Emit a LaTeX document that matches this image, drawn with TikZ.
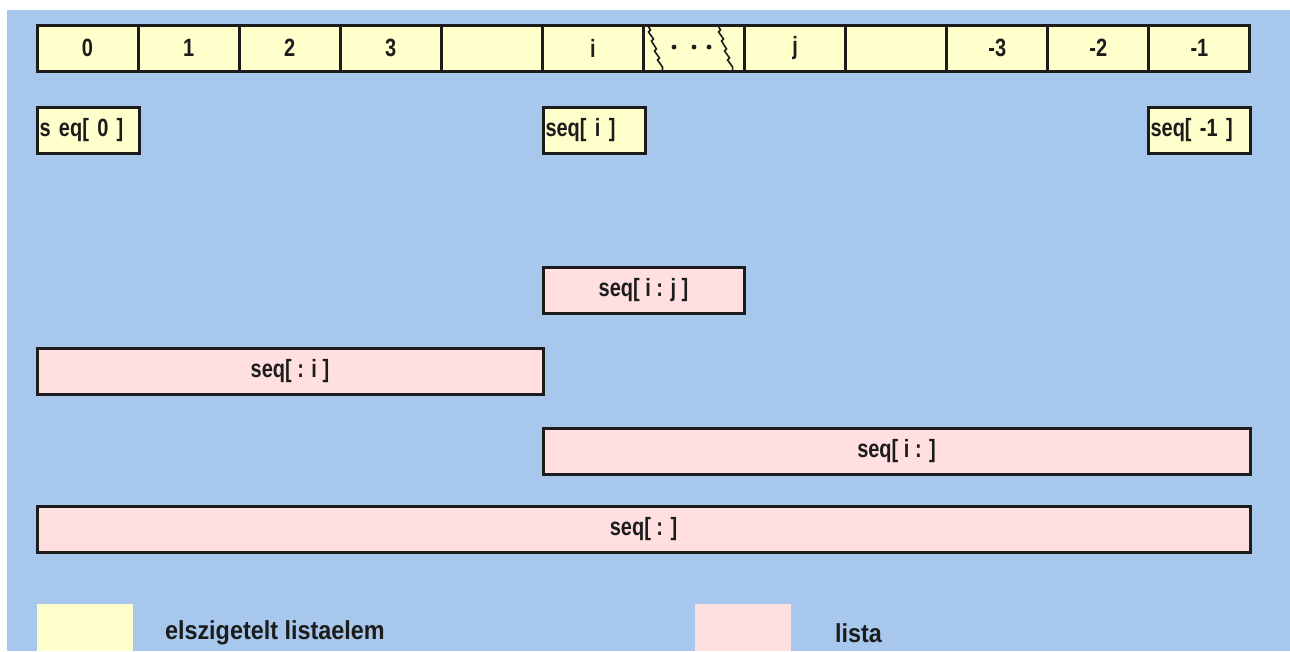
\documentclass[tikz,border=0pt]{standalone}
\usepackage{fontspec}
\setmainfont[FakeStretch=0.8]{Liberation Sans}
\newfontfamily\legfont[FakeStretch=0.9]{Liberation Sans}
\definecolor{bgblue}{HTML}{A7C8EC}
\definecolor{elemyellow}{HTML}{FFFFCC}
\definecolor{listpink}{HTML}{FFDFDF}
\definecolor{edge}{HTML}{1C1C1C}
\begin{document}
\begin{tikzpicture}[x=1pt,y=-1pt,
  every node/.style={font=\fontsize{25}{29}\selectfont\bfseries, text=edge, inner sep=0pt, outer sep=0pt},
  cell/.style={draw=edge, line width=3pt, fill=elemyellow, minimum width=101.08pt, minimum height=46pt, anchor=north west},
  elem/.style={draw=edge, line width=3pt, fill=elemyellow, minimum width=102pt, minimum height=46pt, anchor=north west, text width=99pt, align=left},
  slice/.style={draw=edge, line width=3pt, fill=listpink, minimum height=46pt, anchor=north west},
  swatch/.style={fill=#1, minimum width=96pt, minimum height=47pt, anchor=north west},
  legendtext/.style={anchor=west, font=\legfont\fontsize{26}{30}\selectfont\bfseries}
]
\useasboundingbox (0,0) rectangle (1290,651);
\fill[white] (0,0) rectangle (1290,651);
\fill[bgblue] (7,10) rectangle (1290,651);

% index row
\foreach \lab [count=\n] in {0,1,2,3,{},i,{},j,{},-3,-2,-1}{
  \node[cell] (c\n) at ({37+(\n-1)*101.08},25) {\lab};
}
% break marks in cell 7
\draw[edge, line width=1.6pt] ([xshift=4pt]c7.north west) -- ++(3,5) -- ++(-2,2) -- ++(5,7) -- ++(-2,2) -- ++(5,8) -- ++(-2,2) -- ++(5,7) -- ++(-2,2) -- ++(5,7) -- ++(0,4);
\draw[edge, line width=1.6pt] ([xshift=-27pt]c7.north east) -- ++(3,5) -- ++(-2,2) -- ++(5,7) -- ++(-2,2) -- ++(5,8) -- ++(-2,2) -- ++(5,7) -- ++(-2,2) -- ++(5,7) -- ++(0,4);
\foreach \dx in {-20,0,15}{
  \fill[edge] ([xshift=\dx pt, yshift=1pt]c7.center) circle (2.4pt);
}

% single elements
\node[elem] (s0) at (37,107) {\hspace{1pt}s eq[ 0 ]};
\node[elem] (si) at (543,107) {\hspace{1pt}seq[ i ]};
\node[elem] (sm1) at (1148,107) {\hspace{1pt}seq[ -1 ]};

% slices
\node[slice, minimum width=201pt] (sij) at (543,267) {seq[ i : j ]};
\node[slice, minimum width=506pt] (sti) at (37,348) {seq[ : i ]};
\node[slice, minimum width=707pt] (sfi) at (543,428) {seq[ i : ]};
\node[slice, minimum width=1213pt] (sall) at (37,506) {seq[ : ]};

% legend
\node[swatch=elemyellow] (ly) at (37,604) {};
\node[legendtext] (lyt) at (165,633) {elszigetelt listaelem};
\node[swatch=listpink] (lp) at (695,604) {};
\node[legendtext] (lpt) at (835,633) {lista};
\end{tikzpicture}
\end{document}
